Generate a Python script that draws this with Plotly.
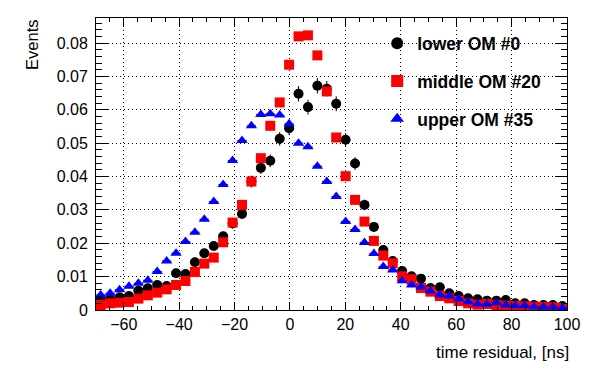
import numpy as np
import plotly.graph_objects as go

# 50 bins from -70 to 100 ns (bin width 3.4 ns)
x_lo, x_hi, n_bins = -70.0, 100.0, 50
bin_w = (x_hi - x_lo) / n_bins
centers = x_lo + bin_w * (np.arange(n_bins) + 0.5)

lower_om0 = [
    0.0032, 0.0033, 0.0038, 0.0042, 0.0058, 0.0065, 0.0075, 0.0072, 0.0110, 0.0108,
    0.0143, 0.0170, 0.0192, 0.0221, 0.0259, 0.0288, 0.0385, 0.0426, 0.0447, 0.0513,
    0.0545, 0.0648, 0.0608, 0.0672, 0.0663, 0.0618, 0.0510, 0.0439, 0.0315, 0.0249,
    0.0180, 0.0147, 0.0117, 0.0101, 0.0094, 0.0066, 0.0068, 0.0050, 0.0042, 0.0035,
    0.0032, 0.0028, 0.0028, 0.0030, 0.0020, 0.0020, 0.0015, 0.0015, 0.0015, 0.0012,
]
middle_om20 = [
    0.0015, 0.0020, 0.0022, 0.0024, 0.0034, 0.0044, 0.0052, 0.0062, 0.0075, 0.0087,
    0.0114, 0.0139, 0.0157, 0.0203, 0.0262, 0.0315, 0.0385, 0.0455, 0.0552, 0.0622,
    0.0735, 0.0820, 0.0823, 0.0763, 0.0655, 0.0517, 0.0401, 0.0330, 0.0265, 0.0207,
    0.0163, 0.0140, 0.0101, 0.0092, 0.0066, 0.0055, 0.0042, 0.0035, 0.0027, 0.0020,
    0.0016, 0.0018, 0.0015, 0.0013, 0.0012, 0.0011, 0.0010, 0.0009, 0.0008, 0.0006,
]
upper_om35 = [
    0.0045, 0.0050, 0.0061, 0.0071, 0.0080, 0.0089, 0.0115, 0.0147, 0.0170, 0.0205,
    0.0233, 0.0272, 0.0325, 0.0376, 0.0448, 0.0508, 0.0552, 0.0586, 0.0588, 0.0584,
    0.0558, 0.0500, 0.0489, 0.0431, 0.0385, 0.0340, 0.0265, 0.0241, 0.0202, 0.0169,
    0.0130, 0.0120, 0.0088, 0.0075, 0.0069, 0.0057, 0.0045, 0.0042, 0.0033, 0.0025,
    0.0018, 0.0017, 0.0022, 0.0015, 0.0013, 0.0013, 0.0010, 0.0009, 0.0009, 0.0006,
]

FONT = "Liberation Sans, Arial, sans-serif"


def err(vals, k):
    return list(k * np.sqrt(np.array(vals)))


fig = go.Figure()

fig.add_trace(go.Scatter(
    x=centers, y=lower_om0, mode="markers", name="lower OM #0", legendgroup="a",
    marker=dict(symbol="circle", size=10, color="black"),
    error_x=dict(type="constant", value=bin_w / 2, width=0, thickness=1, color="black"),
    error_y=dict(type="data", array=err(lower_om0, 0.009), width=0, thickness=1, color="black"),
))
fig.add_trace(go.Scatter(
    x=centers, y=middle_om20, mode="markers", name="middle OM #20", legendgroup="b",
    marker=dict(symbol="square", size=10, color="#ff0000"),
))
fig.add_trace(go.Scatter(
    x=centers, y=upper_om35, mode="markers", name="upper OM #35", legendgroup="c",
    marker=dict(symbol="triangle-up", size=10, color="#0000ff"),
    error_x=dict(type="constant", value=bin_w / 2, width=0, thickness=1, color="#0000ff"),
))

axis_common = dict(
    showline=True, linecolor="black", linewidth=1, mirror="ticks",
    ticks="inside", tickcolor="black",
    showgrid=True, gridcolor="black", gridwidth=1, griddash="1px,3px",
    zeroline=False,
    tickfont=dict(family=FONT, size=16, color="black"),
)

fig.update_xaxes(
    range=[x_lo, x_hi], dtick=20, tick0=0, ticklen=8,
    minor=dict(dtick=5, ticklen=4, ticks="inside", tickcolor="black", showgrid=False),
    **axis_common,
)
fig.update_yaxes(
    range=[0, 0.0875], dtick=0.01, tick0=0, ticklen=12,
    minor=dict(dtick=0.002, ticklen=6, ticks="inside", tickcolor="black", showgrid=False),
    ticklabelstandoff=4,
    **axis_common,
)

fig.add_annotation(
    text="Events", textangle=-90, xref="paper", yref="paper",
    x=-0.136, y=1.0, xanchor="center", yanchor="top", showarrow=False,
    font=dict(family=FONT, size=16.5, color="black"),
)
fig.add_annotation(
    text="time residual, [ns]", xref="paper", yref="paper",
    x=1.008, y=-0.145, xanchor="right", yanchor="middle", showarrow=False,
    font=dict(family=FONT, size=17, color="black"),
)

# page body has an 8px margin, so the figure is drawn 8px smaller and shifted
fig.update_layout(
    width=590, height=362,
    margin=dict(l=88, r=31, t=10, b=60),
    paper_bgcolor="white", plot_bgcolor="white",
    legend=dict(
        x=0.597, y=0.975, xanchor="left", yanchor="top",
        bgcolor="rgba(0,0,0,0)", borderwidth=0,
        font=dict(family=FONT, size=17.5, color="black", weight="bold"),
        tracegroupgap=12, itemsizing="constant",
    ),
)

fig.write_html("out.html")
